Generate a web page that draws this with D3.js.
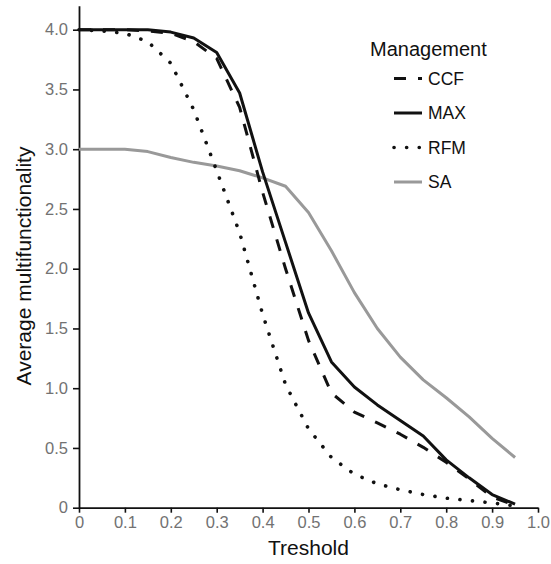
<!DOCTYPE html>
<html>
<head>
<meta charset="utf-8">
<script src="https://cdn.jsdelivr.net/npm/d3@7"></script>
<style>
  body { margin: 0; background: #fff; }
  svg { display: block; font-family: "Liberation Sans", Arial, sans-serif; }
</style>
</head>
<body>
<div id="chart"></div>
<script>
// Threshold values (x) shared by every series
const thresholds = [0, 0.05, 0.1, 0.15, 0.2, 0.25, 0.3, 0.35, 0.4, 0.45, 0.5,
  0.55, 0.6, 0.65, 0.7, 0.75, 0.8, 0.85, 0.9, 0.95];

const ccfValues = [4.0, 4.0, 4.0, 3.99, 3.97, 3.9, 3.76, 3.35, 2.64, 2.0, 1.4,
  0.96, 0.8, 0.71, 0.615, 0.505, 0.38, 0.24, 0.09, 0.02];
const maxValues = [4.0, 4.0, 4.0, 4.0, 3.98, 3.93, 3.81, 3.47, 2.81, 2.22, 1.63,
  1.22, 1.01, 0.86, 0.73, 0.6, 0.4, 0.25, 0.11, 0.03];
const rfmValues = [4.0, 3.99, 3.97, 3.9, 3.72, 3.33, 2.82, 2.3, 1.62, 1.03, 0.66,
  0.42, 0.28, 0.2, 0.15, 0.11, 0.08, 0.06, 0.04, 0.015];
const saValues = [3.0, 3.0, 3.0, 2.98, 2.93, 2.89, 2.86, 2.82, 2.76, 2.69, 2.47,
  2.15, 1.8, 1.5, 1.26, 1.07, 0.92, 0.76, 0.58, 0.42];

const xTicks = [0, 0.1, 0.2, 0.3, 0.4, 0.5, 0.6, 0.7, 0.8, 0.9, 1.0];
const yTicks = [0, 0.5, 1.0, 1.5, 2.0, 2.5, 3.0, 3.5, 4.0];

const seriesNames = ['CCF', 'MAX', 'RFM', 'SA'];
const seriesValues = [ccfValues, maxValues, rfmValues, saValues];

// line styles per management type
const styles = {
  CCF: { stroke: '#111', dash: '12,12', cap: 'butt', width: 3 },
  MAX: { stroke: '#111', dash: null, cap: 'butt', width: 3 },
  RFM: { stroke: '#111', dash: '0.1,12.5', cap: 'round', width: 3.6 },
  SA: { stroke: '#999', dash: null, cap: 'butt', width: 3 }
};

const width = 551, height = 564;
const margin = { top: 5.8, left: 79, right: 13, bottom: 56.3 };

const svg = d3.select('#chart').append('svg')
  .attr('width', width)
  .attr('height', height);

const x = d3.scaleLinear().domain([0, 1]).range([margin.left, 538]);
const y = d3.scaleLinear().domain([0, 4.2]).range([height - margin.bottom, margin.top]);

const fmt = d => d === 0 ? '0' : d3.format('.1f')(d);

// x axis
const xAxis = svg.append('g')
  .attr('transform', `translate(0,${y(0)})`)
  .call(d3.axisBottom(x).tickValues(xTicks).tickFormat(fmt).tickSize(5).tickSizeOuter(0).tickPadding(4));

// y axis
const yAxis = svg.append('g')
  .attr('transform', `translate(${x(0)},0)`)
  .call(d3.axisLeft(y).tickValues(yTicks).tickFormat(fmt).tickSize(6).tickSizeOuter(0).tickPadding(5));

[xAxis, yAxis].forEach(g => {
  g.select('.domain').attr('stroke', '#111').attr('stroke-width', 1.8);
  g.selectAll('.tick line').attr('stroke', '#111').attr('stroke-width', 1.6);
  g.selectAll('.tick text')
    .attr('fill', '#727272')
    .style('font-size', '16.5px')
    .style('font-family', '"Liberation Sans", Arial, sans-serif');
});

// axis titles
svg.append('text')
  .attr('x', (x(0) + x(1)) / 2)
  .attr('y', 555)
  .attr('text-anchor', 'middle')
  .attr('fill', '#111')
  .style('font-size', '21px')
  .text('Treshold');

svg.append('text')
  .attr('transform', `translate(31,${266}) rotate(-90)`)
  .attr('text-anchor', 'middle')
  .attr('fill', '#111')
  .style('font-size', '21px')
  .text('Average multifunctionality');

// lines
const line = d3.line()
  .x((d, i) => x(thresholds[i]))
  .y(d => y(d));

const linesG = svg.append('g');
// draw SA first so the black lines sit on top
[3, 0, 1, 2].forEach(k => {
  const name = seriesNames[k];
  const s = styles[name];
  linesG.append('path')
    .datum(seriesValues[k])
    .attr('d', line)
    .attr('fill', 'none')
    .attr('stroke', s.stroke)
    .attr('stroke-width', s.width)
    .attr('stroke-linecap', s.cap)
    .attr('stroke-linejoin', 'round')
    .attr('stroke-dasharray', s.dash);
});

// legend
const legend = svg.append('g').attr('transform', 'translate(370,0)');
legend.append('text')
  .attr('x', 0)
  .attr('y', 56)
  .attr('fill', '#111')
  .style('font-size', '20px')
  .text('Management');

seriesNames.forEach((name, i) => {
  const s = styles[name];
  const cy = 78.5 + i * 34.5;
  legend.append('line')
    .attr('x1', 24).attr('x2', 52)
    .attr('y1', cy).attr('y2', cy)
    .attr('stroke', s.stroke)
    .attr('stroke-width', s.width)
    .attr('stroke-linecap', s.cap)
    .attr('stroke-dasharray', s.dash);
  legend.append('text')
    .attr('x', 58)
    .attr('y', cy)
    .attr('dy', '0.35em')
    .attr('fill', '#111')
    .style('font-size', '17.5px')
    .text(name);
});
</script>
</body>
</html>
